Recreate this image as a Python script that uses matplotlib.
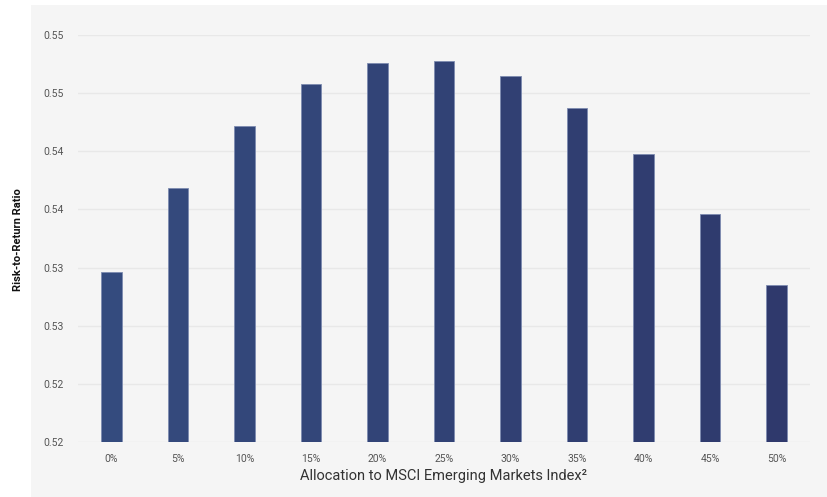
import numpy as np
import matplotlib.pyplot as plt
from matplotlib.patches import Rectangle

# data
allocations = ["0%", "5%", "10%", "15%", "20%", "25%", "30%", "35%", "40%", "45%", "50%"]
ratios = [0.5296, 0.5368, 0.5422, 0.5458, 0.5476, 0.5478, 0.5465, 0.5437, 0.5398, 0.5346, 0.5285]
ytick_values = [0.515, 0.52, 0.525, 0.53, 0.535, 0.54, 0.545, 0.55]
ytick_labels = ["0.52", "0.52", "0.53", "0.53", "0.54", "0.54", "0.55", "0.55"]

plt.rcParams['font.family'] = ['Roboto', 'DejaVu Sans']

fig = plt.figure(figsize=(8.28, 4.97), dpi=100)
fig.patch.set_facecolor("white")
# light grey panel behind the chart
fig.patches.append(Rectangle((31/828, 0), 1 - 31/828, 1 - 5/497, transform=fig.transFigure,
                             facecolor="#f5f5f5", edgecolor="none", zorder=-5))

ax = fig.add_axes([78/828, 1 - 442/497, (810 - 78)/828, (442 - 35)/497])
ax.set_facecolor("none")
ax.set_zorder(2)

x = np.arange(len(allocations))
# bars shift slightly from blue to navy going right
cols = plt.matplotlib.colors.LinearSegmentedColormap.from_list("c", ["#344b7e", "#2f396c"])(np.linspace(0, 1, len(x)))
ax.bar(x, np.array(ratios) - 0.515, bottom=0.515, width=0.31, color=cols,
       edgecolor="#7d8bb0", linewidth=0.6, zorder=3)

ax.set_xlim(-0.5, 10.5)
ax.set_ylim(0.515, 0.55)
ax.set_yticks(ytick_values)
ax.set_yticklabels(ytick_labels)
ax.set_xticks(x)
ax.set_xticklabels(allocations)
ax.grid(axis="y", color="#e8e8e8", linewidth=1, zorder=0)
ax.tick_params(length=0, labelsize=7.5, labelcolor="#555555")
ax.tick_params(axis="y", pad=10)
ax.tick_params(axis="x", pad=9)
for s in ax.spines.values():
    s.set_visible(False)

ax.set_xlabel("Allocation to MSCI Emerging Markets Index\u00b2", fontsize=10.5, color="#333333", labelpad=3)
fig.text(18/828, 1 - 240/497, "Risk-to-Return Ratio", rotation=90, ha="center", va="center",
         fontsize=8, fontweight="bold", color="#111111")

fig.savefig("out.png", dpi=100)
